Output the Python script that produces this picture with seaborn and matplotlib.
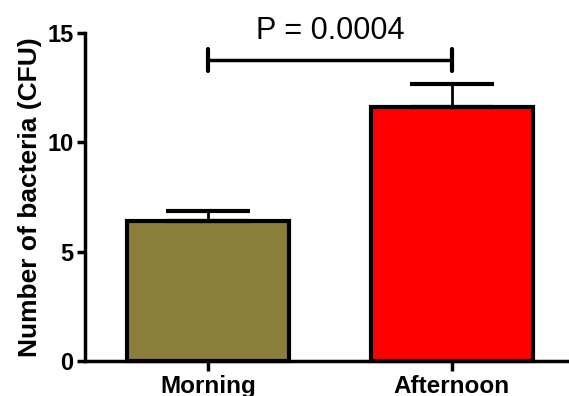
import numpy as np
import pandas as pd
import matplotlib.pyplot as plt
import seaborn as sns

# dados
grupos = ['Morning', 'Afternoon']
medias = [6.4, 11.6]
erros = [0.45, 1.05]
cores = ['#8B7D3A', '#FF0000']
p_texto = 'P = 0.0004'
p_altura = 13.75

df = pd.DataFrame({'grupo': grupos, 'bacterias': medias})

sns.set_style('ticks')
plt.rcParams['font.family'] = ['Liberation Sans', 'DejaVu Sans']
plt.rcParams['text.color'] = 'black'
plt.rcParams['axes.labelcolor'] = 'black'
plt.rcParams['xtick.color'] = 'black'
plt.rcParams['ytick.color'] = 'black'

fig = plt.figure(figsize=(5.69, 3.96), dpi=100)
ax = fig.add_axes([0.149, 0.088, 0.851, 0.829])

sns.barplot(data=df, x='grupo', y='bacterias', hue='grupo', palette=cores,
            saturation=1, width=0.664, edgecolor='black', linewidth=3,
            legend=False, ax=ax)

# barras de erro só para cima
x = np.arange(len(grupos))
ax.errorbar(x, medias, yerr=[np.zeros(len(erros)), erros], fmt='none',
            ecolor='black', elinewidth=2, capsize=30, capthick=3, zorder=1)

# linha de significância
ax.plot([x[0], x[1]], [p_altura, p_altura], color='black', lw=2.5,
        solid_capstyle='butt')
for xi in x:
    ax.plot([xi, xi], [p_altura - 0.5, p_altura + 0.5], color='black',
            lw=3, solid_capstyle='round')
ax.text((x[0] + x[1]) / 2, 14.72, p_texto, ha='center', va='baseline',
        fontsize=22)

ax.set_xlim(-0.504, 1.48)
ax.set_ylim(0, 15)
ax.set_yticks([0, 5, 10, 15])
ax.set_xlabel('')
ax.set_ylabel('Number of bacteria (CFU)', fontsize=19, fontweight='bold',
              labelpad=4)
ax.tick_params(axis='y', labelsize=17, width=2.5, length=6, pad=2)
ax.tick_params(axis='x', labelsize=17.5, width=2.5, length=7, pad=3)
for lab in ax.get_xticklabels() + ax.get_yticklabels():
    lab.set_fontweight('bold')
for s in ['left', 'bottom']:
    ax.spines[s].set_linewidth(2.5)
    ax.spines[s].set_color('black')
sns.despine(ax=ax)
for c in ax.get_children():
    try:
        c.set_clip_on(False)
    except Exception:
        pass

plt.savefig('out.png', dpi=100)
